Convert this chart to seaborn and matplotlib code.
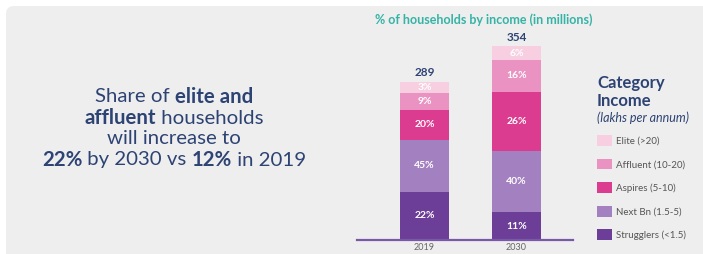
import numpy as np
import pandas as pd
import matplotlib
matplotlib.use("Agg")
import matplotlib.pyplot as plt
import seaborn as sns
from matplotlib.patches import FancyBboxPatch, Patch

# ── data ────────────────────────────────────────────────────
years = ["2019", "2030"]
totals = [289, 354]
categories = ["Elite (>20)", "Affluent (10-20)", "Aspires (5-10)",
              "Next Bn (1.5-5)", "Strugglers (<1.5)"]
# segment sizes (millions, as drawn) bottom -> top: strugglers, next bn, aspires, affluent, elite
seg_2019 = [88, 95, 54, 32, 20]
seg_2030 = [51, 111, 109, 57, 26]
pct_2019 = [22, 45, 20, 9, 3]
pct_2030 = [11, 40, 26, 16, 6]
colors = ["#6c3e98", "#a381c0", "#dc3c8f", "#ea93c2", "#f8cfe1"]  # bottom -> top

NAVY = "#2d4373"
TEAL = "#35b3a6"
BG = "#eeeeee"

sns.set_theme(style="white")
plt.rcParams["font.family"] = ["Lato", "DejaVu Sans"]

W, H = 703, 254
fig = plt.figure(figsize=(W / 100, H / 100), dpi=100)
fig.patch.set_facecolor("white")

# background axes in pixel coords
bg = fig.add_axes([0, 0, 1, 1])
bg.set_xlim(0, W)
bg.set_ylim(H, 0)
bg.axis("off")
bg.add_patch(FancyBboxPatch((6, 6), W + 20, H + 20,
                            boxstyle="round,pad=0,rounding_size=8",
                            fc=BG, ec="none"))

# ── stacked bars ────────────────────────────────────────────
px_per_unit = 92.0
base_px, top_px = 240, 20
left_px, right_px = 357, 573
mil_per_px = 1.825

ax = fig.add_axes([left_px / W, (H - base_px) / H,
                   (right_px - left_px) / W, (base_px - top_px) / H])
ax.patch.set_alpha(0)

df = pd.DataFrame({
    "year": np.repeat(years, 5),
    "level": list(range(5)) * 2,
    "size": seg_2019 + seg_2030,
    "pct": pct_2019 + pct_2030,
})
df["cum"] = df.groupby("year")["size"].cumsum()
df["mid"] = df["cum"] - df["size"] / 2

bar_w = 49 / px_per_unit
for lvl in reversed(range(5)):
    sub = df[df["level"] == lvl]
    sns.barplot(data=sub, x="year", y="cum", order=years, color=colors[lvl],
                saturation=1, width=bar_w, errorbar=None, ax=ax, linewidth=0)

for _, r in df.iterrows():
    xi = years.index(r["year"])
    ax.text(xi, r["mid"], f"{r['pct']}%", ha="center", va="center",
            color="white", fontsize=7.5, fontweight="bold")

for xi, t in enumerate(totals):
    ax.text(xi, t + 6, str(t), ha="center", va="bottom", color=NAVY,
            fontsize=8.5, fontweight="bold")

ax.set_xlim((left_px - 424.5) / px_per_unit, (right_px - 424.5) / px_per_unit)
ax.set_ylim(0, (base_px - top_px) * mil_per_px)
ax.set_xlabel("")
ax.set_ylabel("")
ax.set_yticks([])
ax.tick_params(axis="x", length=0, pad=2, labelsize=6.5, labelcolor="#666666")
for s in ["top", "left", "right"]:
    ax.spines[s].set_visible(False)
ax.spines["bottom"].set_color("#7a58a8")
ax.spines["bottom"].set_linewidth(1.6)

bg.text(484, 20, "% of households by income (in millions)", ha="center",
        va="center", color=TEAL, fontsize=9, fontweight="bold")

# ── left headline with mixed weights ────────────────────────
renderer = fig.canvas.get_renderer()
lines = [
    [("Share of ", "normal"), ("elite and", "bold")],
    [("affluent", "bold"), (" households", "normal")],
    [("will increase to", "normal")],
    [("22%", "bold"), (" by 2030 vs ", "normal"), ("12%", "bold"), (" in 2019", "normal")],
]
line_y = [97, 118, 139, 160]
cx = 174
for segs, y in zip(lines, line_y):
    objs = [bg.text(0, y, s, ha="left", va="center", color=NAVY,
                    fontsize=14.7, fontweight=w) for s, w in segs]
    widths = [o.get_window_extent(renderer).width for o in objs]
    x = cx - sum(widths) / 2
    for o, wd in zip(objs, widths):
        o.set_x(x)
        x += wd

# ── legend ──────────────────────────────────────────────────
bg.text(597, 83, "Category", ha="left", va="center", color=NAVY,
        fontsize=12, fontweight="bold")
bg.text(597, 101, "Income", ha="left", va="center", color=NAVY,
        fontsize=12, fontweight="bold")
bg.text(597, 118, "(lakhs per annum)", ha="left", va="center", color=NAVY,
        fontsize=9, style="italic")

handles = [Patch(facecolor=c, edgecolor="none") for c in reversed(colors)]
leg = bg.legend(handles, categories, loc="upper left",
                bbox_to_anchor=(597 / W, 1 - 135 / H),
                bbox_transform=fig.transFigure, frameon=False,
                fontsize=7, handlelength=1.55, handleheight=1.35,
                handletextpad=0.45, labelspacing=1.3, borderpad=0,
                borderaxespad=0)
for t in leg.get_texts():
    t.set_color("#555555")

fig.savefig("out.png", dpi=100, facecolor="white")
